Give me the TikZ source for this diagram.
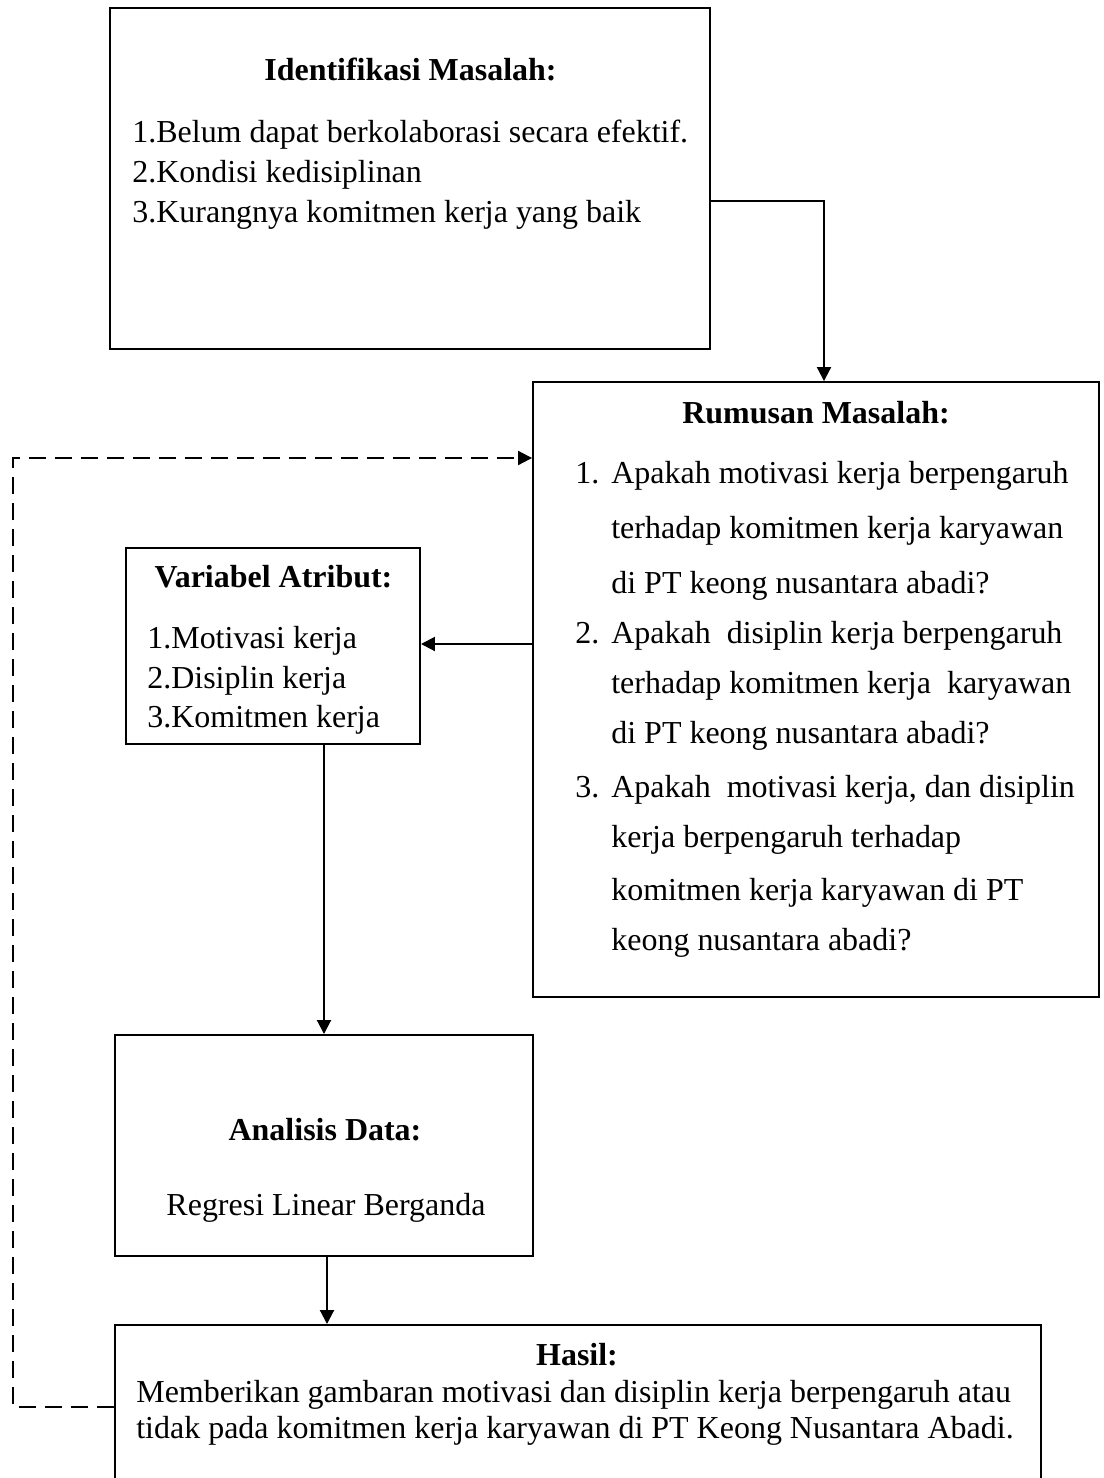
\documentclass[tikz,border=0pt]{standalone}
\usepackage{fontspec}
\setmainfont{Liberation Serif}
\usetikzlibrary{arrows.meta,calc}
\begin{document}
\begin{tikzpicture}[x=0.02cm,y=-0.02cm,
  box/.style={draw=black,line width=1.15pt,rectangle,inner sep=0pt,fill=none},
  txt/.style={anchor=base west,inner sep=0pt,font=\fontsize{18.2}{22}\selectfont},
  ttl/.style={anchor=base,inner sep=0pt,font=\fontsize{18.2}{22}\selectfont\bfseries},
  ctr/.style={anchor=base,inner sep=0pt,font=\fontsize{18.2}{22}\selectfont},
  arr/.style={line width=1.15pt,-{Triangle[length=0.28cm,width=0.28cm]}},
  dsh/.style={line width=1.15pt,dash pattern=on 0.34cm off 0.18cm,-{Triangle[length=0.28cm,width=0.28cm]}}]
\useasboundingbox (0,0) rectangle (1103,1478);

% boxes
\node[box,minimum width=12cm,minimum height=6.82cm] (idm) at (410,178.5) {};
\node[box,minimum width=11.32cm,minimum height=12.3cm] (rum) at (816,689.5) {};
\node[box,minimum width=5.88cm,minimum height=3.92cm] (var) at (273,646) {};
\node[box,minimum width=8.36cm,minimum height=4.42cm] (ana) at (324,1145.5) {};
\node[box,minimum width=18.52cm,minimum height=3.5cm] (has) at (578,1412.5) {};

% Identifikasi Masalah
\node[ttl] (idmT) at (410.5,80) {Identifikasi Masalah:};
\node[txt] (idm1) at (132,142) {1.Belum dapat berkolaborasi secara efektif.};
\node[txt] (idm2) at (132,182) {2.Kondisi kedisiplinan};
\node[txt] (idm3) at (132,222) {3.Kurangnya komitmen kerja yang baik};

% Rumusan Masalah
\node[ttl] (rumT) at (816,423) {Rumusan Masalah:};
\node[txt] (rn1) at (575,483) {1.};
\node[txt] (r1a) at (611,483) {Apakah motivasi kerja berpengaruh};
\node[txt] (r1b) at (611,538) {terhadap komitmen kerja karyawan};
\node[txt] (r1c) at (611,593) {di PT keong nusantara abadi?};
\node[txt] (rn2) at (575,643) {2.};
\node[txt] (r2a) at (611,643) {Apakah\hspace{0.25em} disiplin kerja berpengaruh};
\node[txt] (r2b) at (611,693) {terhadap komitmen kerja\hspace{0.25em} karyawan};
\node[txt] (r2c) at (611,743) {di PT keong nusantara abadi?};
\node[txt] (rn3) at (575,797) {3.};
\node[txt] (r3a) at (611,797) {Apakah\hspace{0.25em} motivasi kerja, dan disiplin};
\node[txt] (r3b) at (611,847) {kerja berpengaruh terhadap};
\node[txt] (r3c) at (611,900) {komitmen kerja karyawan di PT};
\node[txt] (r3d) at (611,950) {keong nusantara abadi?};

% Variabel Atribut
\node[ttl] (varT) at (273.5,587) {Variabel Atribut:};
\node[txt] (v1) at (147,648) {1.Motivasi kerja};
\node[txt] (v2) at (147,688) {2.Disiplin kerja};
\node[txt] (v3) at (147,727) {3.Komitmen kerja};

% Analisis Data
\node[ttl] (anaT) at (325,1140) {Analisis Data:};
\node[ctr] (ana1) at (326,1215) {Regresi Linear Berganda};

% Hasil
\node[ttl] (hasT) at (577,1365) {Hasil:};
\node[txt] (h1) at (136,1402) {Memberikan gambaran motivasi dan disiplin kerja berpengaruh atau};
\node[txt] (h2) at (136,1438) {tidak pada komitmen kerja karyawan di PT Keong Nusantara Abadi.};

% connectors
\coordinate (k1) at (824,201);
\draw[arr] (idm.east |- k1) -- (k1) -- (k1 |- rum.north);
\coordinate (k2) at (533,644);
\draw[arr] (rum.west |- k2) -- (k2 -| var.east);
\draw[arr] (var.south -| ana.north) -- (ana.north);
\coordinate (k3) at (327,1256);
\draw[arr] (k3 |- ana.south) -- (k3 |- has.north);
\coordinate (d1) at (13,1407);
\coordinate (d2) at (13,458);
\draw[dsh] (has.west |- d1) -- (d1) -- (d2) -- (d2 -| rum.west);
\end{tikzpicture}
\end{document}
